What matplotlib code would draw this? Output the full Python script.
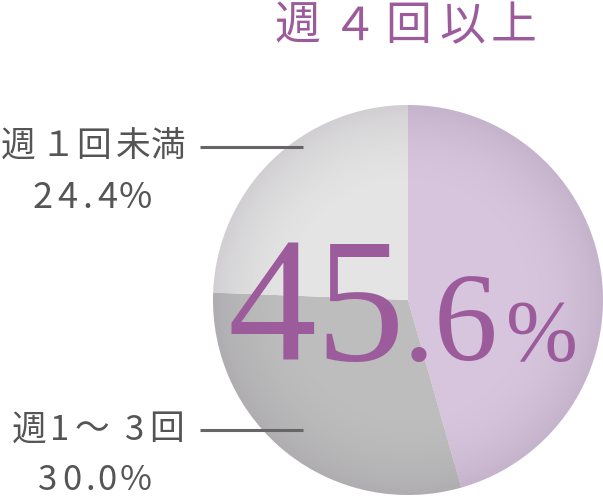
import matplotlib
matplotlib.use("Agg")
import matplotlib.pyplot as plt
import numpy as np
from matplotlib.patches import Circle

plt.rcParams['font.family'] = ['Noto Sans CJK JP', 'DejaVu Sans']

categories = ['週４回以上', '週1〜3回', '週１回未満']
values = [45.6, 30.0, 24.4]
value_labels = ['45.6', '30.0%', '24.4%']
colors = ['#d7c4dd', '#bdbdbd', '#e4e4e4']

W, H = 603, 499
fig = plt.figure(figsize=(W / 100, H / 100), dpi=100)
ax = fig.add_axes([0, 0, 1, 1])

cx, cy, R = 408, H - 300, 195
wedges, _ = ax.pie(values, colors=colors, startangle=90, counterclock=False,
                   center=(cx, cy), radius=R, frame=True,
                   wedgeprops=dict(linewidth=0))
ax.set_xlim(0, W)
ax.set_ylim(0, H)
ax.set_aspect('equal')
ax.axis('off')

# radial shading toward the rim
n = 400
yy, xx = np.mgrid[-1:1:n * 1j, -1:1:n * 1j]
r = np.sqrt(xx ** 2 + yy ** 2)
alpha = np.clip((r - 0.55) / 0.45, 0, 1) ** 2 * 0.14
img = np.zeros((n, n, 4))
img[..., 3] = alpha
img[..., 0] = 0.35
img[..., 1] = 0.3
img[..., 2] = 0.38
im = ax.imshow(img, extent=(cx - R, cx + R, cy - R, cy + R), origin='lower',
               zorder=3, interpolation='bilinear')
clip = Circle((cx, cy), R, transform=ax.transData)
im.set_clip_path(clip)

purple = '#9c5b9b'
gray = '#555555'


def spaced(text, centers, y, size, color):
    for ch, x in zip(text, centers):
        ax.text(x, H - y, ch, ha='center', va='center', fontsize=size,
                color=color, zorder=5)


# title
spaced(categories[0], [297, 355, 408, 462, 514], 26, 33, purple)

# big percentage
ax.text(405, H - 360, value_labels[0][:2], ha='right', va='baseline',
        fontsize=128, family='Liberation Serif', color=purple, zorder=5)
ax.text(403, H - 360, value_labels[0][2:], ha='left', va='baseline',
        fontsize=92, family='Liberation Serif', color=purple, zorder=5)
ax.text(506, H - 360, '%', ha='left', va='baseline',
        fontsize=62, family='Liberation Serif', color=purple, zorder=5)

# left labels
spaced(categories[2], [18, 58, 94, 133, 168], 146, 25, gray)
spaced(value_labels[2], [43, 67, 87, 107, 135], 198, 26, gray)
ax.plot([200, 303], [H - 147, H - 147], color='#666666', lw=2.2, zorder=6,
        solid_capstyle='butt')

spaced(categories[1], [29, 60, 92, 135, 167], 430, 25, gray)
spaced(value_labels[1], [48, 72, 90, 107, 136], 480, 25, gray)
ax.plot([200, 303], [H - 430, H - 430], color='#666666', lw=2.2, zorder=6,
        solid_capstyle='butt')

fig.savefig('out.png', dpi=100)
